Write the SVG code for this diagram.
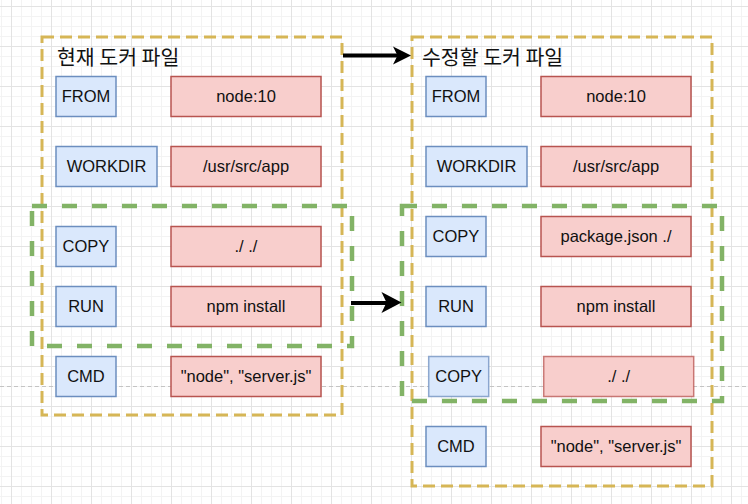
<svg xmlns="http://www.w3.org/2000/svg" width="748" height="504" viewBox="0 0 748 504">
  <defs>
    <!-- drawing-canvas grid: minor lines every 10px, major every 40px -->
    <pattern id="grid" patternUnits="userSpaceOnUse" x="11" y="6" width="40" height="40">
      <path d="M10.5 0V40M20.5 0V40M30.5 0V40M0 10.5H40M0 20.5H40M0 30.5H40" stroke="#f3f3f3" stroke-width="1" fill="none"/>
      <path d="M0.5 0V40M0 0.5H40" stroke="#e3e3e3" stroke-width="1" fill="none"/>
    </pattern>
    <style>
      .key { fill: #dae8fc; stroke: #6c8ebf; stroke-width: 1.5; }
      .val { fill: #f8cecc; stroke: #b85450; stroke-width: 1.5; }
      .faded { stroke-opacity: 0.75; }
      .lbl { font-family: "Liberation Sans", Arial, sans-serif; font-size: 16.5px; fill: #111; text-anchor: middle; dominant-baseline: central; }
      .title { font-family: "Noto Sans CJK KR", "Noto Sans", sans-serif; font-size: 20.5px; fill: #111; }
      .file { fill: none; stroke: #d6b656; stroke-width: 3; stroke-dasharray: 12 6; }
      .layer { fill: none; stroke: #82b366; stroke-width: 4.5; stroke-dasharray: 15 15; }
      .conn { stroke: #000; stroke-width: 4; fill: none; }
    </style>
  </defs>

  <rect width="748" height="504" fill="#ffffff"/>
  <rect width="748" height="504" fill="url(#grid)"/>
  <!-- page break guide -->
  <line x1="0" y1="386.5" x2="748" y2="386.5" stroke="#c4c4c4" stroke-width="1" stroke-dasharray="4 3"/>

  <!-- current Dockerfile -->
  <g id="current-file">
    <rect class="file" x="42" y="37" width="300" height="378"/>
    <text class="title" x="57" y="64.5">현재 도커 파일</text>
  </g>
  <g id="cur-from">
    <rect class="key" x="56" y="76.5" width="60" height="40"/>
    <text class="lbl" x="86" y="96">FROM</text>
  </g>
  <g id="cur-from-val">
    <rect class="val" x="171" y="76.5" width="150" height="40"/>
    <text class="lbl" x="246" y="96">node:10</text>
  </g>
  <g id="cur-workdir">
    <rect class="key" x="56" y="146.5" width="101" height="40"/>
    <text class="lbl" x="106.5" y="166">WORKDIR</text>
  </g>
  <g id="cur-workdir-val">
    <rect class="val" x="171" y="146.5" width="150" height="40"/>
    <text class="lbl" x="246" y="166">/usr/src/app</text>
  </g>
  <g id="cur-copy">
    <rect class="key" x="56" y="226.5" width="60" height="40"/>
    <text class="lbl" x="86" y="246">COPY</text>
  </g>
  <g id="cur-copy-val">
    <rect class="val" x="171" y="226.5" width="150" height="40"/>
    <text class="lbl" x="246" y="246">./ ./</text>
  </g>
  <g id="cur-run">
    <rect class="key" x="56" y="286.5" width="60" height="40"/>
    <text class="lbl" x="86" y="306">RUN</text>
  </g>
  <g id="cur-run-val">
    <rect class="val" x="171" y="286.5" width="150" height="40"/>
    <text class="lbl" x="246" y="306">npm install</text>
  </g>
  <g id="cur-cmd">
    <rect class="key" x="56" y="356.5" width="60" height="40"/>
    <text class="lbl" x="86" y="376">CMD</text>
  </g>
  <g id="cur-cmd-val">
    <rect class="val" x="171" y="356.5" width="150" height="40"/>
    <text class="lbl" x="246" y="376">"node", "server.js"</text>
  </g>
  <g id="cur-layer">
    <rect class="layer" x="32" y="206" width="320" height="140"/>
  </g>

  <!-- revised Dockerfile -->
  <g id="new-file">
    <rect class="file" x="412" y="37" width="300" height="449"/>
    <text class="title" x="422" y="64.5">수정할 도커 파일</text>
  </g>
  <g id="new-from">
    <rect class="key" x="426" y="76.5" width="60" height="40"/>
    <text class="lbl" x="456" y="96">FROM</text>
  </g>
  <g id="new-from-val">
    <rect class="val" x="541" y="76.5" width="150" height="40"/>
    <text class="lbl" x="616" y="96">node:10</text>
  </g>
  <g id="new-workdir">
    <rect class="key" x="426" y="146.5" width="101" height="40"/>
    <text class="lbl" x="476.5" y="166">WORKDIR</text>
  </g>
  <g id="new-workdir-val">
    <rect class="val" x="541" y="146.5" width="150" height="40"/>
    <text class="lbl" x="616" y="166">/usr/src/app</text>
  </g>
  <g id="new-copy-pkg">
    <rect class="key" x="426" y="216.5" width="60" height="40"/>
    <text class="lbl" x="456" y="236">COPY</text>
  </g>
  <g id="new-copy-pkg-val">
    <rect class="val" x="541" y="216.5" width="150" height="40"/>
    <text class="lbl" x="616" y="236">package.json ./</text>
  </g>
  <g id="new-run">
    <rect class="key" x="426" y="286.5" width="60" height="40"/>
    <text class="lbl" x="456" y="306">RUN</text>
  </g>
  <g id="new-run-val">
    <rect class="val" x="541" y="286.5" width="150" height="40"/>
    <text class="lbl" x="616" y="306">npm install</text>
  </g>
  <g id="new-copy-src">
    <rect class="key faded" x="428.7" y="356.5" width="60" height="40"/>
    <text class="lbl" x="458.7" y="376">COPY</text>
  </g>
  <g id="new-copy-src-val">
    <rect class="val faded" x="543.7" y="356.5" width="150" height="40"/>
    <text class="lbl" x="618.7" y="376">./ ./</text>
  </g>
  <g id="new-cmd">
    <rect class="key" x="426" y="426.5" width="60" height="40"/>
    <text class="lbl" x="456" y="446">CMD</text>
  </g>
  <g id="new-cmd-val">
    <rect class="val" x="541" y="426.5" width="150" height="40"/>
    <text class="lbl" x="616" y="446">"node", "server.js"</text>
  </g>
  <g id="new-layer">
    <rect class="layer" x="402" y="206" width="320" height="195"/>
  </g>

  <!-- connectors -->
  <g id="connectors">
    <line class="conn" x1="343" y1="55.5" x2="398" y2="55.5"/>
    <path d="M411 55.5L393 46.5L397.5 55.5L393 64.5Z" fill="#000"/>
    <line class="conn" x1="351" y1="303" x2="388" y2="303"/>
    <path d="M401.5 302.5L381.5 292L386.5 302.5L381.5 313Z" fill="#000"/>
  </g>
</svg>
